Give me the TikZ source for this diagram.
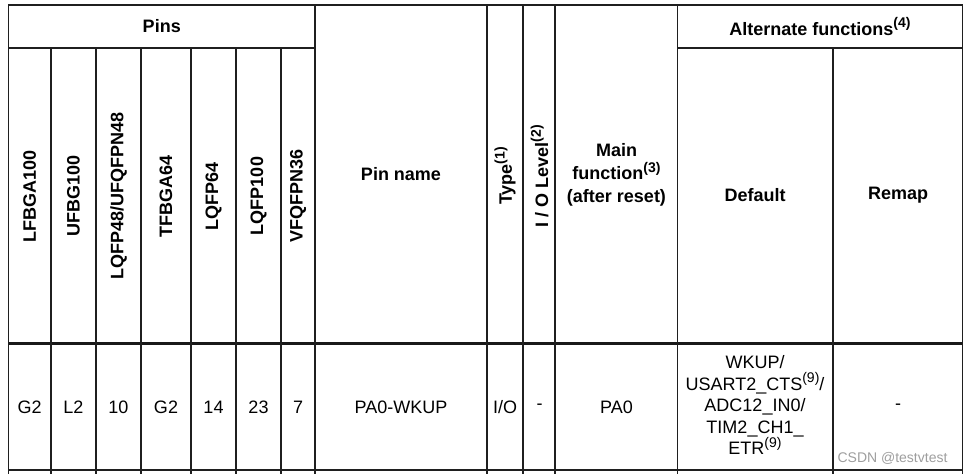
\documentclass[tikz,border=0pt]{standalone}
\usepackage{fontspec}
\setmainfont{Liberation Sans}
\newcommand\supx[1]{\raisebox{0.40em}{\fontsize{14}{14}\selectfont #1}}
\begin{document}
\begin{tikzpicture}[x=1pt,y=-1pt,
  grid/.style={line width=1.2pt,draw=black!88},
  thick rule/.style={line width=3pt,draw=black!90},
  hd/.style={font=\fontsize{18}{23}\selectfont\bfseries,inner sep=0pt,align=center},
  hdrot/.style={hd,rotate=90},
  cell/.style={font=\fontsize{18}{21.5}\selectfont,inner sep=0pt,align=center},
  wm/.style={font=\fontsize{14}{16}\selectfont,text=black!38,inner sep=0pt}]
\useasboundingbox (0,0) rectangle (965,474);
% horizontal rules
\draw[grid] (8.5,5) -- (962.5,5);
\draw[grid] (8.5,48) -- (315,48);
\draw[grid] (677.5,48) -- (962.5,48);
\draw[thick rule] (8.5,343.5) -- (962.5,343.5);
\draw[grid] (8.5,470) -- (962.5,470);
% vertical rules
\foreach \x in {8.5,315,487,523,555,677.5,962.5}
  \draw[grid] (\x,4.4) -- (\x,474);
\foreach \x in {51,96,141,191,236,281,833}
  \draw[grid] (\x,48) -- (\x,474);
% headers
\node[hd] (pins) at (161.75,26.5) {Pins};
\node[hd] (alt) at (820,26.5) {Alternate functions\supx{(4)}};
\node[hdrot] (h1) at (29.75,196) {LFBGA100};
\node[hdrot] (h2) at (73.5,196) {UFBG100};
\node[hdrot] (h3) at (118.5,196) {LQFP48/UFQFPN48};
\node[hdrot] (h4) at (166,196) {TFBGA64};
\node[hdrot] (h5) at (213.5,196) {LQFP64};
\node[hdrot] (h6) at (258.5,196) {LQFP100};
\node[hdrot] (h7) at (298,196) {VFQFPN36};
\node[hd] (pn) at (401,174) {Pin name};
\node[hdrot] (ty) at (505,176) {Type\supx{(1)}};
\node[hdrot] (iol) at (539.5,176) {I / O Level\supx{(2)}};
\node[hd] (mf) at (616.5,175) {Main\\function\supx{(3)}\\(after reset)};
\node[hd] (def) at (755,195.5) {Default};
\node[hd] (rem) at (898,195.5) {Remap};
% data row
\node[cell] (c1) at (29.75,407) {G2};
\node[cell] (c2) at (73.5,407) {L2};
\node[cell] (c3) at (118.5,407) {10};
\node[cell] (c4) at (166,407) {G2};
\node[cell] (c5) at (213.5,407) {14};
\node[cell] (c6) at (258.5,407) {23};
\node[cell] (c7) at (298,407) {7};
\node[cell] (c8) at (401,407) {PA0-WKUP};
\node[cell] (c9) at (505,407) {I/O};
\node[cell] (c10) at (539.5,407) {-};
\node[cell] (c11) at (616.5,407) {PA0};
\node[cell] (c12) at (755,405) {WKUP/\\USART2\_CTS\supx{(9)}/\\ADC12\_IN0/\\TIM2\_CH1\_\\ETR\supx{(9)}};
\node[cell] (c13) at (898,407) {-};
\node[wm] (wmk) at (892.5,458) {CSDN @testvtest};
\end{tikzpicture}
\end{document}
